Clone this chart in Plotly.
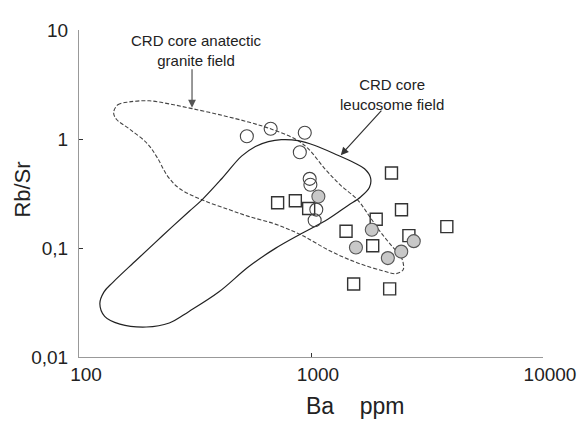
import plotly.graph_objects as go

# ---- data (Ba ppm, Rb/Sr) ----
open_ba = [529, 670, 940, 895, 987, 994, 1054, 1037]
open_rbsr = [1.06, 1.24, 1.14, 0.755, 0.431, 0.381, 0.225, 0.18]

gray_ba = [1076, 1828, 1562, 2773, 2449, 2144]
gray_rbsr = [0.297, 0.147, 0.101, 0.1156, 0.0927, 0.0808]

sq_ba = [718, 856, 977, 2223, 2455, 1910, 1416, 3850, 2642, 1845, 1527, 2183]
sq_rbsr = [0.26, 0.271, 0.23, 0.488, 0.224, 0.1835, 0.1426, 0.157, 0.130, 0.1048, 0.0468, 0.0422]

# anatectic granite field outline (dashed)
gran_ba = [141, 147, 165, 201, 245, 307, 413, 538, 655, 855, 970, 1148, 1343, 1588, 1787,
           1991, 2240, 2424, 2496, 2496, 2331, 2031, 1588, 1217, 906, 702, 538, 442, 339,
           270, 240, 218, 197, 165, 145, 141]
gran_rbsr = [1.75, 2.06, 2.19, 2.24, 2.10, 1.90, 1.65, 1.43, 1.26, 1.00, 0.82, 0.533, 0.376,
             0.2765, 0.195, 0.1406, 0.1033, 0.0859, 0.0730, 0.0632, 0.0582, 0.0619, 0.0730,
             0.0932, 0.132, 0.1656, 0.195, 0.2254, 0.2765, 0.3535, 0.4617, 0.668, 0.908,
             1.235, 1.517, 1.75]

# leucosome field outline (solid)
leu_ba = [123, 128, 140, 177, 229, 298, 339, 413, 502, 576, 655, 745, 880, 1040, 1305, 1542,
          1701, 1805, 1787, 1636, 1439, 1182, 906, 702, 538, 400, 298, 245, 195, 150, 129, 123]
leu_rbsr = [0.0308, 0.0394, 0.0484, 0.0776, 0.1295, 0.2163, 0.2765, 0.434, 0.696, 0.854,
            0.946, 0.986, 0.966, 0.872, 0.710, 0.603, 0.533, 0.443, 0.361, 0.294, 0.2445,
            0.1835, 0.135, 0.0992, 0.0672, 0.0394, 0.0262, 0.0205, 0.01884, 0.02004, 0.0236,
            0.0308]

x_ticks = [100, 1000, 10000]
x_ticktext = ["100", "1000", "10000"]
y_ticks = [0.01, 0.1, 1, 10]
y_ticktext = ["0,01", "0,1", "1", "10"]

FONT = "Liberation Sans, Arial, sans-serif"
INK = "#333333"

fig = go.Figure()

fig.add_trace(go.Scatter(x=gran_ba, y=gran_rbsr, mode="lines",
                         line=dict(color="#444444", width=1.1, dash="4px,2px", shape="spline", smoothing=1.0),
                         hoverinfo="skip", showlegend=False))
fig.add_trace(go.Scatter(x=leu_ba, y=leu_rbsr, mode="lines",
                         line=dict(color="#222222", width=1.2, shape="spline", smoothing=1.0),
                         hoverinfo="skip", showlegend=False))

fig.add_trace(go.Scatter(x=sq_ba, y=sq_rbsr, mode="markers",
                         marker=dict(symbol="square-open", size=12, color="#333333", line=dict(width=1.4)),
                         showlegend=False))
fig.add_trace(go.Scatter(x=open_ba, y=open_rbsr, mode="markers",
                         marker=dict(symbol="circle", size=13, color="rgba(255,255,255,0.0)",
                                     line=dict(color="#444444", width=1.1)),
                         showlegend=False))
fig.add_trace(go.Scatter(x=gray_ba, y=gray_rbsr, mode="markers",
                         marker=dict(symbol="circle", size=13, color="#c8c8c8",
                                     line=dict(color="#555555", width=1.1)),
                         showlegend=False))

axis_common = dict(showgrid=False, zeroline=False, showline=True, linecolor="#999999", linewidth=1,
                   ticks="inside", ticklen=4, tickcolor=INK, tickwidth=1,
                   tickfont=dict(family=FONT, size=19, color="#222222"))

fig.update_xaxes(type="log", range=[2, 4], tickvals=x_ticks, ticktext=x_ticktext,
                 ticklabelshift=7, **axis_common)
fig.update_yaxes(type="log", range=[-2, 1], tickvals=y_ticks, ticktext=y_ticktext,
                 ticklabelstandoff=6, **axis_common)

fig.add_annotation(text="Ba\u00a0\u00a0\u00a0\u00a0ppm", xref="paper", yref="paper",
                   x=(357 - 79) / 468, y=(357 - 408) / 337, showarrow=False,
                   font=dict(family=FONT, size=23, color="#222222"), xanchor="center", yanchor="middle")
fig.add_annotation(text="Rb/Sr", xref="paper", yref="paper", textangle=-90,
                   x=(22 - 79) / 468, y=(357 - 184) / 337, showarrow=False,
                   font=dict(family=FONT, size=22, color="#222222"), xanchor="center", yanchor="middle")

fig.add_annotation(text="CRD core anatectic<br>granite field", xref="paper", yref="paper",
                   x=(198 - 79) / 468, y=(357 - 41) / 337, showarrow=False,
                   font=dict(family=FONT, size=15, color="#222222"), xanchor="center", yanchor="middle")
fig.add_annotation(text="CRD core<br>leucosome field", xref="paper", yref="paper",
                   x=(395 - 79) / 468, y=(357 - 86) / 337, showarrow=False,
                   font=dict(family=FONT, size=15, color="#222222"), xanchor="center", yanchor="middle")

fig.add_annotation(text="", xref="paper", yref="paper", x=(193 - 79) / 468, y=(357 - 100) / 337,
                   ax=0, ay=-40, axref="pixel", ayref="pixel", showarrow=True,
                   arrowhead=2, arrowsize=1.3, arrowwidth=1.2, arrowcolor="#555555")
fig.add_annotation(text="", xref="paper", yref="paper", x=(343 - 79) / 468, y=(357 - 149) / 337,
                   ax=42, ay=-46, axref="pixel", ayref="pixel", showarrow=True,
                   arrowhead=2, arrowsize=1.3, arrowwidth=1.2, arrowcolor="#333333")

# page body has an 8px default margin: figure is 8px smaller, left/top margins reduced by 8
fig.update_layout(width=580, height=418, margin=dict(l=71, r=41, t=12, b=69),
                  plot_bgcolor="white", paper_bgcolor="white", showlegend=False,
                  font=dict(family=FONT))

fig.write_html("out.html")
